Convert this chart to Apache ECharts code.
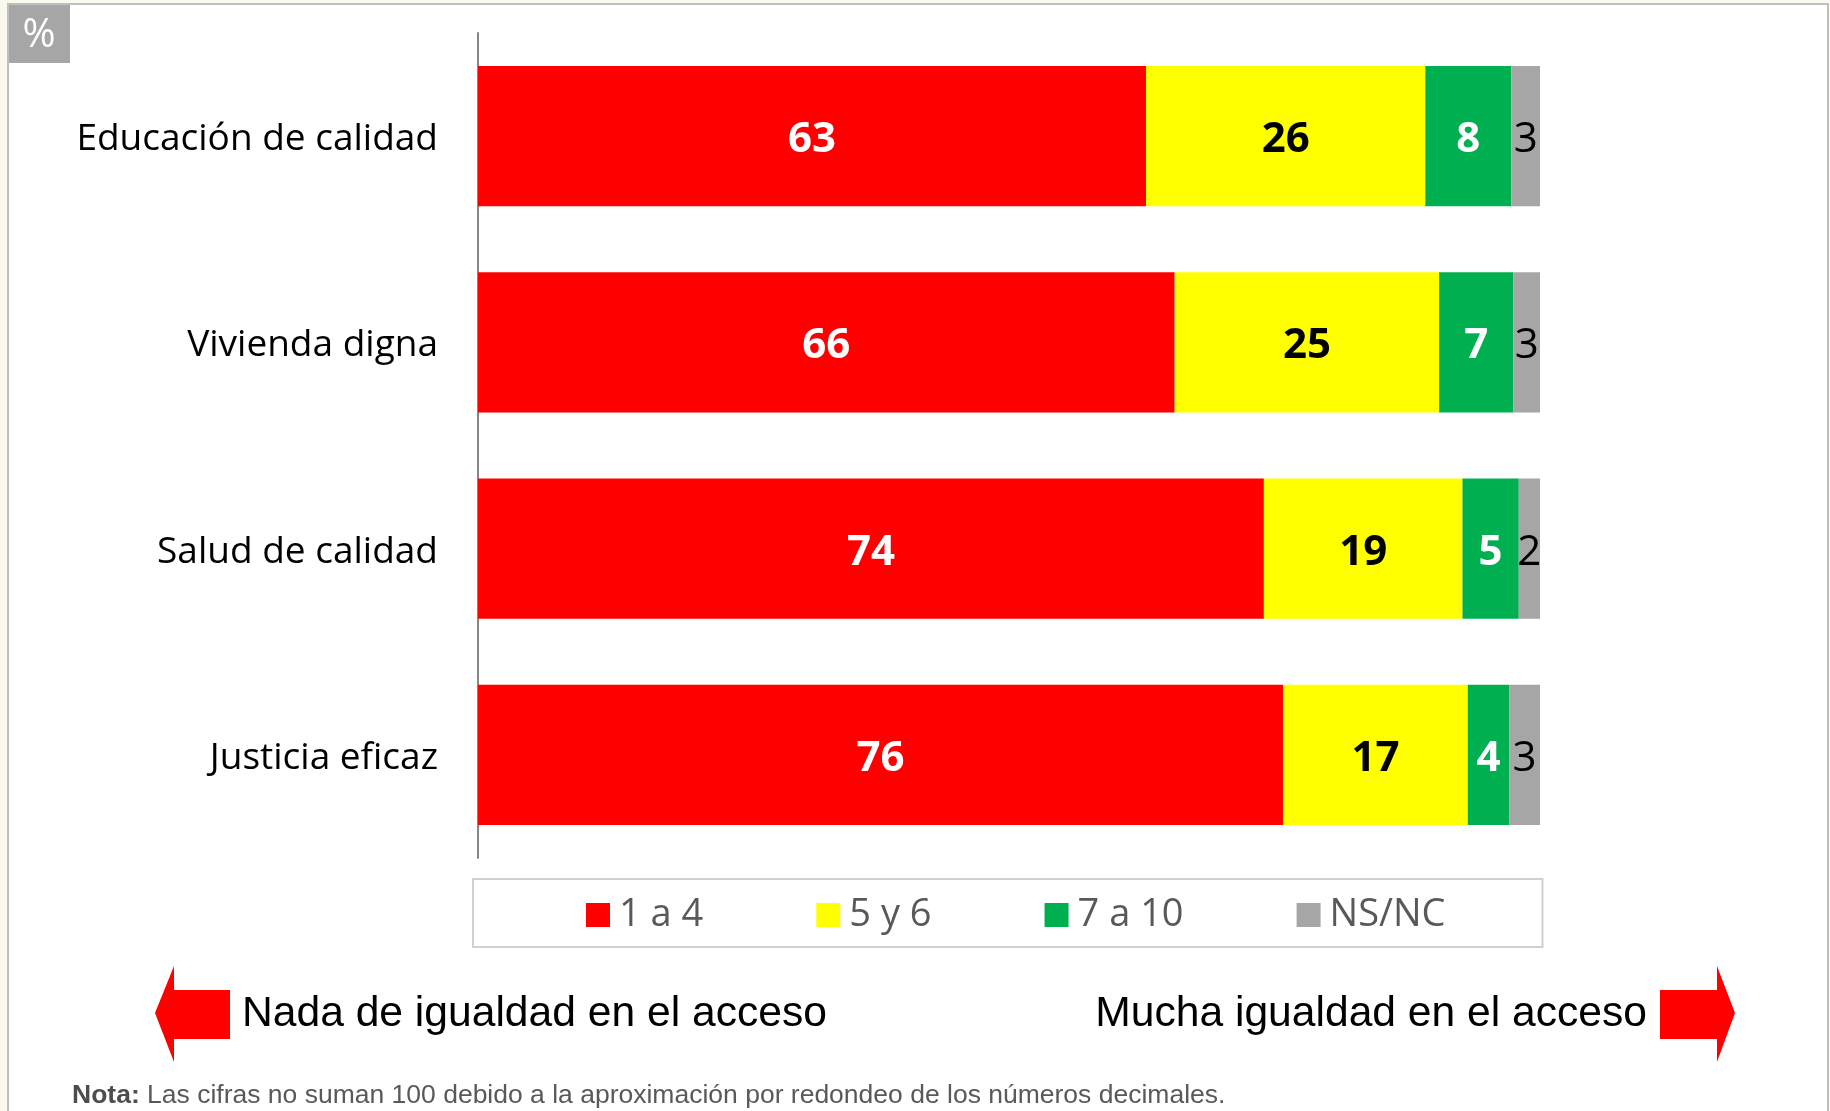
<!DOCTYPE html>
<html>
<head>
<meta charset="utf-8">
<script src="https://cdn.jsdelivr.net/npm/echarts@6/dist/echarts.min.js"></script>
<style>
html,body{margin:0;padding:0;background:#FBF9EE;}
#c{width:1830px;height:1111px;}
</style>
</head>
<body>
<div id="c"></div>
<script>
// Categories (top to bottom)
const categories = ['Educación de calidad', 'Vivienda digna', 'Salud de calidad', 'Justicia eficaz'];
// Series values (labels show rounded values)
const seriesNames = ['1 a 4', '5 y 6', '7 a 10', 'NS/NC'];
const v1a4 = [62.9, 65.6, 74.0, 75.8];
const v5y6 = [26.3, 24.9, 18.7, 17.4];
const v7a10 = [8.1, 7.0, 5.3, 3.9];
const vNSNC = [2.7, 2.5, 2.1, 2.9];
const colors = ['#FF0000', '#FFFF00', '#00B050', '#A6A6A6'];
const labelColors = ['#FFFFFF', '#000000', '#FFFFFF', '#000000'];
const labelWeights = ['bold', 'bold', 'bold', 'normal'];
const leftNote = 'Nada de igualdad en el acceso';
const rightNote = 'Mucha igualdad en el acceso';
const footBold = 'Nota:';
const footText = ' Las cifras no suman 100 debido a la aproximación por redondeo de los números decimales.';

const values = [v1a4, v5y6, v7a10, vNSNC];
const chart = echarts.init(document.getElementById('c'), null, {renderer: 'canvas'});

const series = values.map((arr, i) => ({
  name: seriesNames[i],
  type: 'bar',
  stack: 'total',
  data: arr,
  barCategoryGap: '32%',
  itemStyle: {color: colors[i]},
  label: {
    show: true,
    position: 'inside',
    offset: [0, 4],
    color: labelColors[i],
    fontFamily: 'Open Sans',
    fontWeight: labelWeights[i],
    fontSize: 42,
    formatter: p => String(Math.round(p.value))
  },
  emphasis: {disabled: true}
}));

chart.setOption({
  backgroundColor: '#FBF9EE',
  animation: false,
  grid: {left: 478, top: 33, width: 1062, height: 825, containLabel: false},
  xAxis: {type: 'value', min: 0, max: 100, show: false},
  yAxis: {
    type: 'category',
    inverse: true,
    data: categories,
    axisLine: {show: true, lineStyle: {color: '#868686', width: 2}},
    axisTick: {show: false},
    axisLabel: {
      margin: 40,
      formatter: v => '{c|' + v + '}',
      rich: {c: {fontFamily: 'Open Sans', fontSize: 37, color: '#000000', padding: [7, 0, 0, 0]}}
    }
  },
  legend: {
    data: seriesNames,
    left: 473,
    top: 879,
    orient: 'horizontal',
    itemWidth: 24,
    itemHeight: 24,
    itemGap: 113,
    padding: [17, 97, 13, 113],
    borderColor: '#D0D0D0',
    borderWidth: 2,
    backgroundColor: '#FFFFFF',
    icon: 'rect',
    textStyle: {fontFamily: 'Open Sans', fontSize: 38, color: '#595959', lineHeight: 38, padding: [0, 0, 0, 4]},
    selectedMode: false
  },
  graphic: [
    {type: 'rect', z: -10, silent: true, shape: {x: 8, y: 4, width: 1820, height: 1120}, style: {fill: '#FFFFFF', stroke: '#BFBFBF', lineWidth: 2}},
    {type: 'rect', z: -5, silent: true, shape: {x: 9, y: 5, width: 61, height: 58}, style: {fill: '#A6A6A6'}},
    {type: 'text', z: 10, silent: true, x: 39, y: 36, style: {text: '%', fill: '#FFFFFF', font: '40px "Open Sans"', align: 'center', verticalAlign: 'middle'}},
    {type: 'polygon', silent: true, shape: {points: [[155,1013],[174,966],[174,990],[230,990],[230,1039],[174,1039],[174,1062]]}, style: {fill: '#FF0000'}},
    {type: 'polygon', silent: true, shape: {points: [[1660,990],[1717,990],[1717,966],[1735,1013],[1717,1062],[1717,1039],[1660,1039]]}, style: {fill: '#FF0000'}},
    {type: 'text', silent: true, x: 242, y: 1014, style: {text: leftNote, fill: '#000000', font: '42.6px "Liberation Sans"', align: 'left', verticalAlign: 'middle'}},
    {type: 'text', silent: true, x: 1647, y: 1014, style: {text: rightNote, fill: '#000000', font: '42.6px "Liberation Sans"', align: 'right', verticalAlign: 'middle'}},
    {type: 'text', silent: true, x: 72, y: 1096, style: {
      text: '{b|' + footBold + '}{n|' + footText + '}',
      verticalAlign: 'middle', align: 'left',
      rich: {
        b: {fontFamily: 'Liberation Sans', fontSize: 26.5, fontWeight: 'bold', fill: '#4D4D4D'},
        n: {fontFamily: 'Liberation Sans', fontSize: 26.5, fill: '#595959'}
      }
    }}
  ],
  series: series
});
</script>
</body>
</html>
